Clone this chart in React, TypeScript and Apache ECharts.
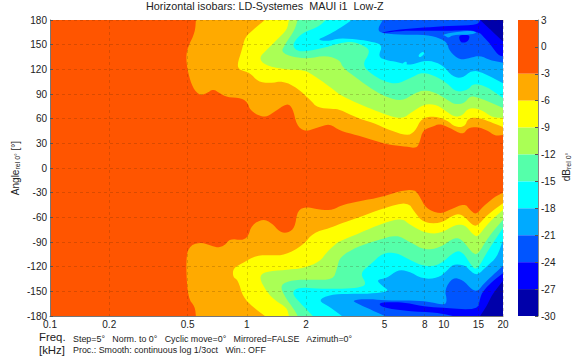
import React, { useEffect, useRef } from "react";
import * as echarts from "echarts";

const FONT = "'Liberation Sans', Arial, sans-serif";
const freqTicks = [0.1, 0.2, 0.5, 1, 2, 5, 8, 10, 15, 20];

const bandColors = ["#ff5500", "#ffaa00", "#ffff00", "#aaff55", "#55ffaa", "#00ffff", "#00aaff", "#0055ff", "#0000ff", "#0000aa"];
const bandTop = [3, -3, -6, -9, -12, -15, -18, -21, -24, -27];
const bandBottom = [-3, -6, -9, -12, -15, -18, -21, -24, -27, -30];

type P = number[];
const below3Top: P[] = [[0.551,180],[0.545,165],[0.502,147],[0.49,135],[0.502,116],[0.532,97],[0.577,88],[0.626,91],[0.673,96],[0.73,91],[0.792,86],[0.944,85],[1.012,79],[1.036,71],[1.137,64],[1.25,62],[1.357,67],[1.6,79],[1.71,73],[1.79,52],[1.97,44],[2.27,49],[2.64,54],[2.97,45],[3.62,40],[4.37,34],[5.32,28],[6.49,26],[7.29,24],[7.56,32],[7.83,46],[8.7,50],[9.55,54],[10.7,49],[12.5,40],[13.3,49],[14.8,50],[16.6,46],[18.2,39],[20,40],[20,180]];
const below3Bottom: P[] = [[0.551,-180],[0.545,-169],[0.502,-158],[0.49,-118],[0.502,-96],[0.577,-90],[0.649,-94],[0.713,-97],[0.774,-94],[0.82,-86],[0.944,-88],[1.012,-84],[1.06,-69],[1.206,-62],[1.34,-67],[1.47,-78],[1.615,-79],[1.75,-73],[1.81,-51],[2.02,-47],[2.35,-51],[2.74,-51],[3.04,-45],[3.62,-41],[4.91,-35],[5.98,-28],[7.13,-26],[7.56,-35],[8.11,-49],[9.55,-56],[10.7,-51],[12.8,-43],[13.6,-51],[14.6,-57],[15.8,-47],[18.2,-35],[20,-30],[20,-180]];
const below6Top: P[] = [[1.235,180],[1.073,168],[0.978,159],[0.944,144],[0.891,125],[0.922,119],[1.036,116],[1.137,105],[1.31,103],[1.525,106],[1.81,97],[2.09,83],[2.29,73],[2.74,72],[2.97,71],[3.62,61],[4.37,55],[5.32,46],[6.49,39],[7.13,44],[7.74,61],[9.02,63],[10.4,58],[11.4,50],[12.8,50],[13.3,61],[15.3,61],[17.6,55],[20,50],[20,180]];
const below6Bottom: P[] = [[1.235,-180],[1.073,-169],[0.955,-157],[0.901,-136],[0.85,-133],[0.85,-122],[0.944,-116],[1.12,-106],[1.34,-106],[1.56,-106],[1.93,-94],[2.165,-79],[2.64,-73],[2.97,-68],[3.62,-61],[4.91,-49],[6.57,-41],[7.13,-54],[7.83,-66],[9.55,-68],[11.4,-56],[12.5,-57],[13.9,-69],[14.8,-71],[16.6,-57],[20,-43],[20,-180]];
const below9Top: P[] = [[1.635,180],[1.6,168],[1.42,156],[1.265,144],[1.15,134],[1.235,125],[1.525,120],[1.97,119],[2.165,113],[2.43,105],[2.87,92],[2.97,89],[3.62,79],[4.37,71],[5.32,63],[6.19,60],[6.88,68],[8.01,78],[9.23,77],[10.4,68],[11.4,62],[12.5,64],[13.3,73],[15.3,72],[17.8,61],[20,61],[20,180]];
const below9Bottom: P[] = [[1.635,-180],[1.6,-170],[1.39,-161],[1.265,-151],[1.15,-133],[1.235,-126],[1.56,-124],[1.93,-122],[2.35,-114],[2.55,-102],[2.87,-91],[2.97,-89],[3.75,-79],[4.91,-67],[6.12,-61],[6.72,-69],[8.01,-79],[9.55,-80],[11.4,-69],[12.8,-69],[14.1,-81],[14.9,-84],[16.8,-67],[20,-51],[20,-180]];
const below12Top: P[] = [[1.81,180],[1.75,168],[1.56,150],[1.49,141],[1.71,135],[2.02,133],[2.55,137],[2.97,131],[3.07,122],[3.62,109],[4.37,95],[5.14,86],[6.12,81],[7.13,91],[8.01,95],[9.23,91],[10.4,83],[11.4,77],[12.8,79],[13.6,88],[15.3,85],[17.6,79],[20,73],[20,180]];
const below12Bottom: P[] = [[1.81,-180],[1.75,-173],[1.56,-157],[1.47,-142],[1.71,-136],[2.165,-136],[2.74,-136],[2.87,-122],[2.97,-108],[3.62,-96],[4.58,-88],[5.77,-81],[6.72,-90],[8.01,-100],[9.55,-97],[11.4,-84],[12.5,-88],[13.9,-103],[14.9,-106],[16.8,-84],[20,-63],[20,-180]];
const below15Top: P[] = [[2.52,180],[2.29,171],[1.93,165],[1.71,152],[1.75,144],[1.93,141],[2.55,147],[2.97,152],[3.45,154],[4.08,147],[4.21,140],[3.84,125],[4.37,113],[5.02,105],[5.77,102],[6.72,109],[7.83,117],[9.23,111],[10.4,103],[11.6,92],[13.3,95],[14.1,103],[16.6,99],[20,85],[20,180]];
const below15Bottom: P[] = [[2.165,-180],[1.86,-164],[1.69,-152],[1.81,-145],[2.35,-147],[2.97,-147],[3.62,-146],[4.08,-142],[3.75,-128],[4.21,-118],[4.91,-103],[5.77,-103],[6.72,-112],[8.01,-120],[9.55,-118],[11.4,-101],[12.5,-102],[13.9,-120],[14.8,-124],[16.8,-100],[20,-73],[20,-180]];
const below18Top: P[] = [[3.41,180],[3.15,174],[2.87,168],[2.55,161],[2.27,156],[2.55,154],[2.97,158],[3.75,156],[4.21,154],[4.91,150],[4.63,135],[5.14,131],[5.77,129],[6.72,125],[7.56,129],[8.5,131],[9.89,125],[11.1,111],[12.4,109],[13.9,119],[15.8,116],[20,103],[20,180]];
const below18Bottom: P[] = [[3.04,-180],[2.64,-169],[2.29,-161],[2.64,-154],[3.33,-153],[4.21,-153],[5.32,-150],[4.91,-144],[4.53,-136],[5.14,-134],[5.84,-124],[6.57,-125],[7.83,-135],[9.34,-134],[10.4,-125],[11.1,-117],[12.8,-118],[13.6,-125],[14.8,-131],[16.6,-119],[18.6,-109],[20,-88],[20,-180]];
const island15a: P[] = [[7.4,137],[7.83,142],[8.01,139],[7.56,134]];
const island15b: P[] = [[6.19,128],[6.49,130],[6.49,125],[6.19,124]];
const below21Top: P[] = [[4.91,180],[4.63,170],[4.74,164],[6.19,162],[8.2,162],[9.78,157],[10.4,152],[10.7,142],[12.1,131],[13.6,134],[15.3,137],[17.2,131],[20,128],[20,180]];
const below21Bottom: P[] = [[5.02,-180],[4.32,-173],[3.66,-165],[3.41,-161],[4.08,-159],[4.91,-161],[6.49,-161],[8.2,-162],[10.1,-167],[10.4,-161],[10.1,-148],[11.1,-133],[12.5,-136],[13.9,-148],[14.9,-150],[15.8,-142],[17.8,-130],[20,-119],[20,-180]];
const tongue18: P[] = [[9.78,162],[11.1,165],[13.6,167],[14.9,165],[13.6,162],[11.1,162],[10.6,158],[10.1,161]];
const below24Top: P[] = [[4.85,165],[6.19,169],[8.2,171],[11.1,173],[14.9,174],[15.3,180],[20,180],[20,136],[18.9,137],[17.2,151],[15.6,162],[15.3,164],[13.6,168],[11.1,167],[9.78,167],[8.2,167],[6.19,167],[4.85,164]];
const blob24: P[] = [[11.9,161],[12.8,162],[13.6,161],[13.3,154],[12.5,152],[12.1,154]];
const below24Bottom: P[] = [[4.63,-164],[5.5,-163],[6.49,-164],[8.2,-169],[10.1,-170],[14.9,-173],[15.3,-158],[15.8,-150],[17.8,-137],[20,-128],[20,-180],[11.1,-180],[10.7,-179],[9.23,-176],[6.49,-174],[4.91,-170]];
const below27Top: P[] = [[15.3,180],[16.8,171],[18.2,163],[20,154],[20,180]];
const below27Bottom: P[] = [[15.3,-180],[16.6,-167],[17.6,-154],[20,-137],[20,-180]];
const fullRange: P[] = [[0.1,-180],[20,-180],[20,180],[0.1,180]];

// [polygon, colour index], painted in this order
const regions: [P[], number][] = [
  [fullRange, 0],
  [below3Top, 1], [below3Bottom, 1],
  [below6Top, 2], [below6Bottom, 2],
  [below9Top, 3], [below9Bottom, 3],
  [below12Top, 4], [below12Bottom, 4],
  [below15Top, 5], [below15Bottom, 5],
  [below18Top, 6], [below18Bottom, 6],
  [island15a, 5], [island15b, 5],
  [below21Top, 7], [below21Bottom, 7],
  [tongue18, 6],
  [below24Top, 8], [blob24, 8], [below24Bottom, 8],
  [below27Top, 9], [below27Bottom, 9],
];

// Rounds a contour's corners in screen space; vertices on the plot's edge stay put.
function rounded(poly: P[], coord: (p: P) => number[]) {
  let pts = poly.map((p) => {
    const c = coord(p);
    return { x: c[0], y: c[1], pin: p[0] >= 20 || p[0] <= 0.1 || Math.abs(p[1]) >= 180 };
  });
  for (let it = 0; it < 2; it++) {
    const out: typeof pts = [];
    pts.forEach((p, i) => {
      if (p.pin) { out.push(p); return; }
      const a = pts[(i - 1 + pts.length) % pts.length];
      const b = pts[(i + 1) % pts.length];
      out.push({ x: p.x + (a.x - p.x) * 0.25, y: p.y + (a.y - p.y) * 0.25, pin: false });
      out.push({ x: p.x + (b.x - p.x) * 0.25, y: p.y + (b.y - p.y) * 0.25, pin: false });
    });
    pts = out;
  }
  return pts.map((p) => [p.x, p.y]);
}

const text = (x: number, y: number, t: string, size: number, extra: any = {}) => ({
  type: "text", x, y, z: 20,
  style: { text: t, fill: "#222", font: `${size}px ${FONT}`, textVerticalAlign: "middle", ...extra },
});

export default function App() {
  const ref = useRef<HTMLDivElement>(null);
  useEffect(() => {
    document.body.style.margin = "0";
    const chart = echarts.init(ref.current!, undefined, { renderer: "svg" });
    const labelStyle = { color: "#222", fontSize: 10, fontFamily: FONT };
    const gridLine = { show: true, lineStyle: { color: "rgba(70,30,0,0.2)", type: [3, 3], width: 1 } };
    chart.setOption({
      animation: false,
      grid: [
        { left: 50, top: 20, width: 453, height: 296 },
        { left: 518, top: 20, width: 20, height: 296 },
      ],
      xAxis: [
        {
          type: "log", gridIndex: 0, min: 0.1, max: 20, logBase: 10, z: 5,
          axisLine: { show: true, onZero: false, lineStyle: { color: "#777" } },
          axisTick: { show: false, customValues: freqTicks },
          axisLabel: { ...labelStyle, margin: 3, customValues: freqTicks, showMinLabel: true, showMaxLabel: true, hideOverlap: false, formatter: (v: number) => String(+(+v).toPrecision(3)) },
          splitLine: gridLine,
          minorTick: { show: false }, minorSplitLine: { show: false },
        },
        { type: "value", gridIndex: 1, min: 0, max: 1, show: false },
      ],
      yAxis: [
        {
          type: "value", gridIndex: 0, min: -180, max: 180, interval: 30, z: 5,
          axisLine: { show: true, onZero: false, lineStyle: { color: "#777" } },
          axisTick: { inside: true, length: 3, lineStyle: { color: "#555" } },
          axisLabel: { ...labelStyle, margin: 3 },
          splitLine: gridLine,
        },
        {
          type: "value", gridIndex: 1, position: "right", min: -30, max: 3, interval: 3, z: 5,
          axisLine: { show: true, onZero: false, lineStyle: { color: "#888" } },
          axisTick: { inside: true, length: 3, lineStyle: { color: "#555" } },
          axisLabel: { ...labelStyle, margin: 3 },
          splitLine: { show: false },
        },
      ],
      series: [
        {
          type: "custom", xAxisIndex: 0, yAxisIndex: 0, clip: true, silent: true,
          encode: { x: 0, y: 1 },
          data: regions.map((r) => r[0][0]),
          renderItem: (params: any, api: any) => {
            const [poly, c] = regions[params.dataIndex];
            return {
              type: "polygon",
              shape: { points: rounded(poly, (p) => api.coord(p)) },
              style: { fill: bandColors[c], stroke: null },
            };
          },
        },
        {
          type: "custom", xAxisIndex: 1, yAxisIndex: 1, silent: true,
          encode: { x: 0, y: 1 },
          data: bandTop.map((t) => [0, t]),
          renderItem: (params: any, api: any) => {
            const i = params.dataIndex;
            const a = api.coord([0, bandTop[i]]);
            const b = api.coord([1, bandBottom[i]]);
            return { type: "rect", shape: { x: a[0], y: a[1], width: b[0] - a[0], height: b[1] - a[1] }, style: { fill: bandColors[i] } };
          },
        },
      ],
      graphic: [
        text(146, 6, "Horizontal isobars: LD-Systemes  MAUI i1  Low-Z", 10.8),
        text(39, 337, "Freq.", 11.4),
        text(39, 350, "[kHz]", 11.4),
        text(73, 339, "Step=5°   Norm. to 0°   Cyclic move=0°   Mirrored=FALSE   Azimuth=0°", 8.9),
        text(73, 349.5, "Proc.: Smooth: continuous log 1/3oct   Win.: OFF", 8.9),
        {
          type: "text", x: 15, y: 168, rotation: Math.PI / 2, z: 20,
          style: {
            text: "{a|Angle}{s|rel 0°}{a| [°]}",
            align: "center", verticalAlign: "middle",
            rich: {
              a: { font: `10px ${FONT}`, fill: "#222", lineHeight: 12 },
              s: { font: `7px ${FONT}`, fill: "#222", lineHeight: 8, verticalAlign: "bottom", padding: [4, 0, 0, 0] },
            },
          },
        },
        {
          type: "text", x: 566, y: 167, rotation: Math.PI / 2, z: 20,
          style: {
            text: "{a|dB}{s|rel 0°}",
            align: "center", verticalAlign: "middle",
            rich: {
              a: { font: `10px ${FONT}`, fill: "#222", lineHeight: 12 },
              s: { font: `7px ${FONT}`, fill: "#222", lineHeight: 8, verticalAlign: "bottom", padding: [4, 0, 0, 0] },
            },
          },
        },
      ],
    });
    return () => chart.dispose();
  }, []);
  return <div ref={ref} style={{ width: 580, height: 358 }} />;
}
